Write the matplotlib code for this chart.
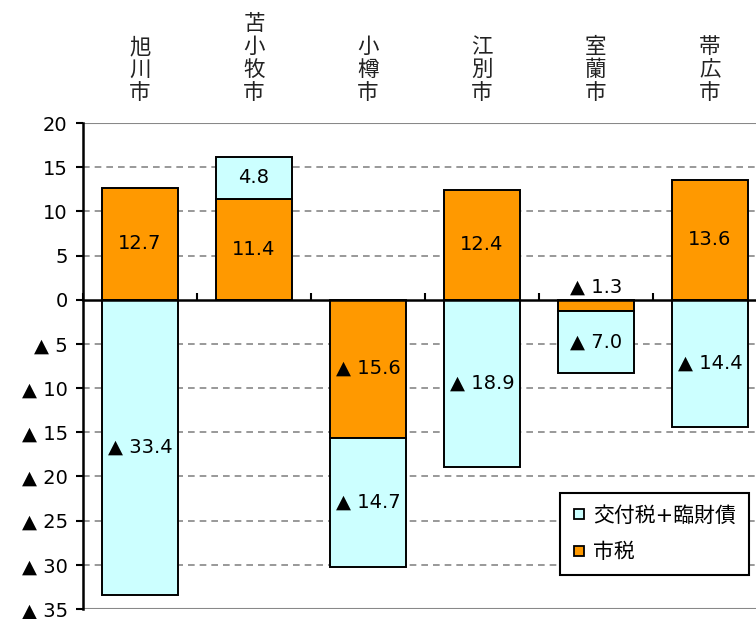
import matplotlib
matplotlib.use("Agg")
import matplotlib.pyplot as plt
import matplotlib.transforms as mtransforms
from matplotlib.lines import Line2D
import numpy as np

plt.rcParams['font.family'] = ['DejaVu Sans', 'Noto Sans CJK JP']

# data (億円, negative = ▲)
cities = ['旭川市', '苫小牧市', '小樽市', '江別市', '室蘭市', '帯広市']
city_tax = [12.7, 11.4, -15.6, 12.4, -1.3, 13.6]
grant_bond = [-33.4, 4.8, -14.7, -18.9, -7.0, -14.4]
yticks = [20, 15, 10, 5, 0, -5, -10, -15, -20, -25, -30, -35]

ORANGE = '#FF9900'
CYAN = '#CCFFFF'


def fmt(v):
    # Japanese style: negative numbers shown with ▲
    return f'▲ {abs(v):.1f}' if v < 0 else f'{v:.1f}'


fig = plt.figure(figsize=(7.56, 6.19), dpi=100)
ax = fig.add_axes([83 / 756, 10 / 619, 684 / 756, 486 / 619])

x = np.arange(len(cities))
width = 0.675

# where the second segment starts: stack on the same side as the first one
base2 = [t if np.sign(t) == np.sign(g) else 0 for t, g in zip(city_tax, grant_bond)]

ax.bar(x, city_tax, width, color=ORANGE, edgecolor='black', linewidth=1.4, zorder=3)
ax.bar(x, grant_bond, width, bottom=base2, color=CYAN, edgecolor='black', linewidth=1.4, zorder=3)

# value labels
for i, (t, g, b) in enumerate(zip(city_tax, grant_bond, base2)):
    if abs(t) < 3:
        ax.text(i, 0.3, fmt(t), ha='center', va='bottom', fontsize=14, zorder=4)
    else:
        ax.text(i, t / 2, fmt(t), ha='center', va='center', fontsize=14, zorder=4)
    ax.text(i, b + g / 2, fmt(g), ha='center', va='center', fontsize=14, zorder=4)

# grid
for y in yticks:
    if y == 0:
        continue
    if y in (20, -35):
        ax.axhline(y, color='#888888', linewidth=1.5, zorder=1)
    else:
        ax.axhline(y, color='#888888', linewidth=1.2, linestyle=(0, (4, 3)), zorder=1)

ax.set_xlim(-0.5, len(cities) - 0.5)
ax.set_ylim(-35, 20)
ax.set_yticks(yticks)
ax.set_yticklabels([f'▲ {-v}' if v < 0 else str(v) for v in yticks], fontsize=14)

ax.spines['top'].set_visible(False)
ax.spines['right'].set_visible(False)
ax.spines['bottom'].set_position(('data', 0))
ax.spines['bottom'].set_linewidth(1.8)
ax.spines['left'].set_linewidth(1.8)
ax.spines['bottom'].set_zorder(5)
ax.set_xticks(np.arange(len(cities) + 1) - 0.5)
ax.set_xticklabels([])
ax.tick_params(axis='x', direction='in', length=5, width=1.5)
ax.tick_params(axis='y', direction='out', length=5, width=1.5, pad=6)

# city names written vertically above the plot
trans = mtransforms.blended_transform_factory(ax.transData, fig.transFigure)
for i, name in enumerate(cities):
    ax.text(i, (619 - 104) / 619, '\n'.join(name), transform=trans, ha='center', va='bottom',
            fontsize=15.5, linespacing=1.05, color='#222222', family=['Noto Sans CJK JP'])

handles = [Line2D([], [], marker='s', linestyle='none', markersize=7,
                  markerfacecolor=CYAN, markeredgecolor='black', markeredgewidth=1.3),
           Line2D([], [], marker='s', linestyle='none', markersize=7,
                  markerfacecolor=ORANGE, markeredgecolor='black', markeredgewidth=1.3)]
leg = fig.legend(handles, ['交付税+臨財債', '市税'], loc='upper left',
                 bbox_to_anchor=(560 / 756, (619 - 493) / 619), fontsize=15,
                 handlelength=0.6, handletextpad=0.4, labelspacing=0.8,
                 borderpad=0.6, borderaxespad=0, fancybox=False, framealpha=1)
leg.get_frame().set_edgecolor('black')
leg.get_frame().set_linewidth(1.5)

fig.savefig('out.png', dpi=100)
